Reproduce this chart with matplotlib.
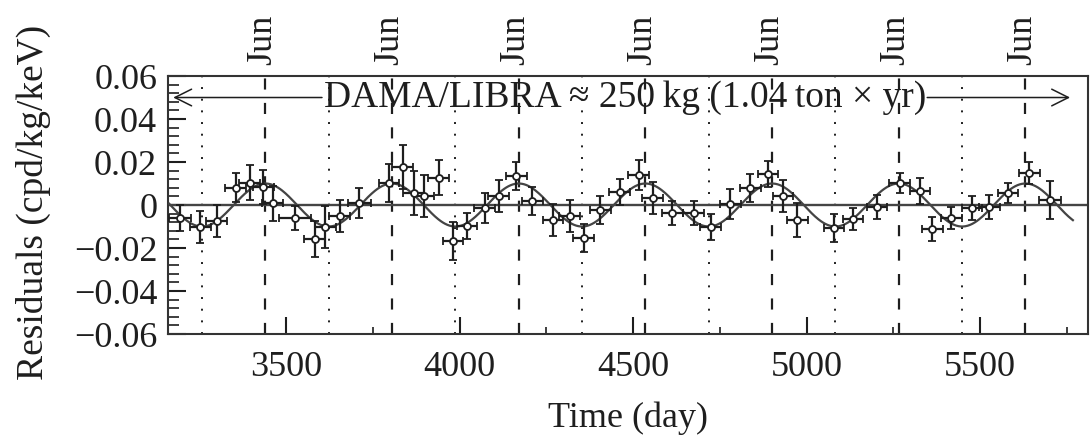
import numpy as np
import matplotlib
matplotlib.use("Agg")
import matplotlib.pyplot as plt
from matplotlib.ticker import MultipleLocator, FixedLocator
import matplotlib.transforms as mtransforms

plt.rcParams['font.family'] = ['Liberation Serif', 'DejaVu Serif']

# residual rate vs time (days since 1 Jan 1995)
days = [3194, 3252, 3300, 3354, 3394, 3434, 3461, 3524, 3582, 3612,
        3654, 3711, 3796, 3836, 3867, 3897, 3940, 3981, 4021, 4072,
        4113, 4163, 4209, 4269, 4317, 4358, 4406, 4461, 4516, 4556,
        4613, 4675, 4724, 4780, 4838, 4889, 4932, 4973, 5079, 5134,
        5203, 5269, 5327, 5363, 5418, 5477, 5527, 5581, 5642, 5702]
resid = [-0.0062, -0.0104, -0.0074, 0.0080, 0.0104, 0.0085, 0.0008, -0.0059, -0.0158, -0.0104,
         -0.0051, 0.0008, 0.0104, 0.0175, 0.0054, 0.0042, 0.0127, -0.0166, -0.0098, -0.0015,
         0.0042, 0.0135, 0.0019, -0.0070, -0.0051, -0.0155, -0.0023, 0.0062, 0.0140, 0.0031,
         -0.0036, -0.0036, -0.0101, 0.0005, 0.0080, 0.0143, 0.0042, -0.0070, -0.0108, -0.0067,
         -0.0008, 0.0104, 0.0067, -0.0113, -0.0059, -0.0012, -0.0008, 0.0057, 0.0150, 0.0023]
resid_err = [0.0060, 0.0074, 0.0074, 0.0067, 0.0081, 0.0079, 0.0081, 0.0056, 0.0084, 0.0098,
             0.0074, 0.0070, 0.0088, 0.0102, 0.0102, 0.0098, 0.0081, 0.0088, 0.0060, 0.0070,
             0.0074, 0.0065, 0.0065, 0.0074, 0.0074, 0.0065, 0.0065, 0.0060, 0.0070, 0.0074,
             0.0056, 0.0056, 0.0060, 0.0070, 0.0065, 0.0060, 0.0074, 0.0081, 0.0065, 0.0051,
             0.0056, 0.0047, 0.0060, 0.0056, 0.0051, 0.0056, 0.0056, 0.0047, 0.0051, 0.0088]
day_err = [32, 30, 30, 30, 30, 30, 30, 46, 30, 30,
           30, 34, 30, 30, 30, 30, 30, 30, 30, 30,
           30, 30, 30, 30, 30, 30, 30, 30, 30, 30,
           30, 30, 30, 30, 30, 30, 30, 30, 30, 30,
           30, 30, 30, 30, 30, 30, 30, 30, 30, 31]

# annual modulation fit: A cos(2pi/T (t - t0))
amp = 0.0100
period = 365.25
phase = 152.5
fit_end = 5768

june_days = [phase + period * k for k in range(9, 16)]
dec_days = [phase - period / 2 + period * k for k in range(9, 17)]

ytick_vals = [-0.06, -0.04, -0.02, 0, 0.02, 0.04, 0.06]
ytick_text = ['\u22120.06', '\u22120.04', '\u22120.02', '0', '0.02', '0.04', '0.06']

fig = plt.figure(figsize=(10.91, 4.44), dpi=100)
ax = fig.add_axes([0.1543, 0.2477, 0.8434, 0.5811])
ink = '#1e1e1e'

ax.set_xlim(3160, 5813)
ax.set_ylim(-0.06, 0.06)

for d in june_days:
    ax.axvline(d, color=ink, lw=1.6, ls=(0, (5, 6)), zorder=1)
for d in dec_days:
    ax.axvline(d, color=ink, lw=1.4, ls=(0, (1, 5)), zorder=1)

ax.axhline(0, color='#444444', lw=1.7, zorder=2)

t = np.linspace(3162, fit_end, 800)
ax.plot(t, amp * np.cos(2 * np.pi / period * (t - phase)), color='#444444', lw=1.6, zorder=3)

ax.errorbar(days, resid, yerr=resid_err, xerr=day_err, fmt='o', ms=5,
            mfc='white', mec=ink, mew=1.3, ecolor=ink, elinewidth=1.6,
            capsize=3, capthick=1.3, zorder=4)

# exposure arrow
ax.annotate('', xy=(3166, 0.05), xytext=(3611, 0.05),
            arrowprops=dict(arrowstyle='->', color=ink, lw=1.1, mutation_scale=30))
ax.annotate('', xy=(5768, 0.05), xytext=(5340, 0.05),
            arrowprops=dict(arrowstyle='->', color=ink, lw=1.1, mutation_scale=30))
ax.text(4476, 0.0500, 'DAMA/LIBRA \u2248 250\u2009kg (1.04\u2009ton \u00d7 yr)',
        ha='center', va='center', fontsize=27, color=ink)

# month markers above the frame
trans = mtransforms.blended_transform_factory(ax.transData, ax.transAxes)
for d in june_days:
    ax.text(d - 8, 1.14, 'Jun', rotation=90, ha='center', va='center',
            fontsize=26, color=ink, transform=trans)

ax.xaxis.set_major_locator(FixedLocator([3500, 4000, 4500, 5000, 5500]))
ax.xaxis.set_minor_locator(FixedLocator([3750, 4250, 4750, 5250, 5750]))
ax.set_yticks(ytick_vals)
ax.set_yticklabels(ytick_text)
ax.yaxis.set_minor_locator(MultipleLocator(0.004))

ax.tick_params(axis='both', which='both', direction='in', top=False, right=False,
               colors=ink, labelsize=26)
ax.tick_params(axis='x', which='major', length=12, width=1.5, pad=12)
ax.tick_params(axis='x', which='minor', length=5, width=1.2)
ax.tick_params(axis='y', which='major', length=13, width=1.5, pad=8)
ax.tick_params(axis='y', which='minor', length=8, width=1.2)

for s in ax.spines.values():
    s.set_linewidth(1.5)
    s.set_color('#333333')

fig.text(628 / 1091, 0.058, 'Time (day)', ha='center', va='center', fontsize=26, color=ink)
fig.text(33 / 1091, 0.545, 'Residuals (cpd/kg/keV)', rotation=90, ha='center',
         va='center', fontsize=27, color=ink)

fig.savefig('out.png', dpi=100)
